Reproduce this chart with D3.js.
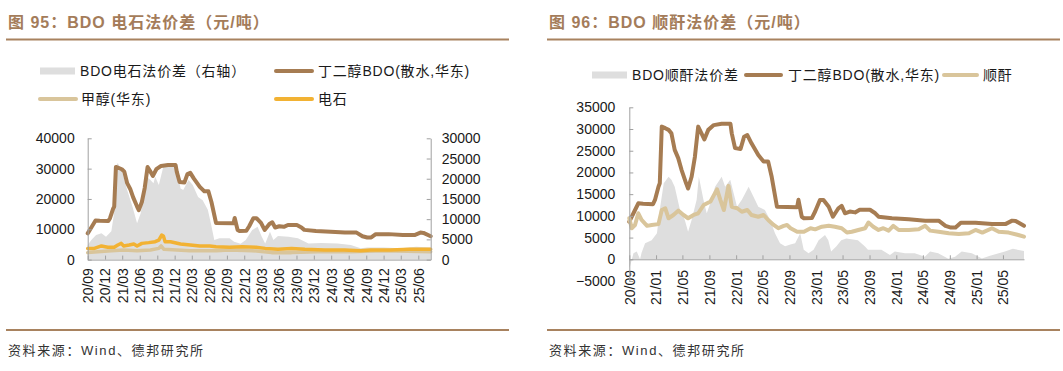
<!DOCTYPE html>
<html><head><meta charset="utf-8">
<script src="https://cdn.jsdelivr.net/npm/d3@7"></script>
<style>
body{margin:0;background:#fff;}
svg{display:block;font-family:"Liberation Sans",Arial,"Noto Sans CJK SC",sans-serif;}
</style></head><body>
<svg id="c" width="1063" height="371"></svg>
<script>
// ---------- DATA ----------
const bdoPrice = [["2020-09-01",8660],["2020-09-20",10600],["2020-10-12",12900],["2020-11-03",12800],["2020-12-18",12700],["2020-12-27",13660],["2021-01-12",16700],["2021-01-18",17500],["2021-01-27",30550],["2021-02-12",30200],["2021-02-27",29800],["2021-03-12",29000],["2021-03-27",25200],["2021-04-12",23300],["2021-04-27",20600],["2021-05-18",17500],["2021-05-27",16300],["2021-06-12",19000],["2021-06-27",23600],["2021-07-12",30550],["2021-07-27",29000],["2021-08-09",27600],["2021-08-27",29800],["2021-09-21",30900],["2021-10-27",31200],["2021-12-06",31200],["2021-12-12",29000],["2021-12-27",25600],["2022-01-21",25400],["2022-02-06",28200],["2022-02-21",28600],["2022-03-12",26700],["2022-04-12",24000],["2022-05-06",22500],["2022-05-27",22500],["2022-06-12",19000],["2022-07-06",12100],["2022-10-06",12000],["2022-10-12",13700],["2022-10-27",9800],["2022-11-06",9450],["2022-12-12",9500],["2022-12-27",11000],["2023-01-18",13660],["2023-02-03",13660],["2023-02-27",12100],["2023-03-18",9800],["2023-04-12",11750],["2023-04-27",12300],["2023-05-12",10600],["2023-06-03",11000],["2023-06-27",10800],["2023-07-18",11400],["2023-09-03",11400],["2023-09-27",10600],["2023-10-12",9800],["2023-12-12",9450],["2024-02-27",9200],["2024-05-12",8900],["2024-07-12",8900],["2024-08-12",7700],["2024-09-06",7300],["2024-09-27",7300],["2024-10-21",8400],["2024-12-27",8400],["2025-03-12",8100],["2025-05-12",8100],["2025-06-12",8900],["2025-06-28",8800],["2025-08-05",7700]];

const carbideSpread = [["2020-09-01",3600],["2020-09-20",4850],["2020-10-15",6100],["2020-11-12",6500],["2020-12-06",5650],["2021-01-03",7000],["2021-01-15",10700],["2021-01-27",23100],["2021-02-06",23900],["2021-03-03",21300],["2021-03-27",17200],["2021-04-24",13100],["2021-05-18",9000],["2021-06-06",11450],["2021-06-21",15500],["2021-07-09",20500],["2021-07-27",19700],["2021-08-12",18900],["2021-08-21",20500],["2021-09-09",18450],["2021-10-03",23000],["2021-11-09",23400],["2021-12-12",23000],["2022-01-01",17600],["2022-01-15",17200],["2022-02-12",19700],["2022-03-06",18450],["2022-04-03",15500],["2022-04-27",14700],["2022-05-24",12300],["2022-06-09",9000],["2022-06-27",4850],["2022-07-24",5250],["2022-09-15",5250],["2022-10-09",4400],["2022-11-12",3900],["2022-12-09",4850],["2023-01-12",7300],["2023-02-09",8150],["2023-03-03",5650],["2023-03-21",4000],["2023-04-15",6900],["2023-05-03",4850],["2023-05-27",5850],["2023-07-21",5650],["2023-09-09",5250],["2023-11-03",4000],["2024-01-09",4100],["2024-04-03",4000],["2024-06-12",3600],["2024-08-03",2800],["2024-09-06",3000],["2024-12-03",3000],["2025-02-27",2800],["2025-05-21",3200],["2025-08-05",3000]];

const carbidePrice = [["2020-09-01",3700],["2020-10-06",3700],["2020-11-12",4500],["2020-12-15",4050],["2021-01-18",4050],["2021-02-06",4800],["2021-02-24",5350],["2021-03-09",4500],["2021-04-06",4800],["2021-05-01",5150],["2021-05-18",4500],["2021-06-12",5350],["2021-07-18",5600],["2021-08-21",5900],["2021-09-09",6450],["2021-09-24",8100],["2021-10-03",7800],["2021-10-12",5900],["2021-11-09",5900],["2022-01-01",5150],["2022-02-21",4800],["2022-04-12",4500],["2022-06-03",4500],["2022-07-06",4250],["2022-09-15",4050],["2022-11-21",4250],["2023-02-01",4050],["2023-03-21",3700],["2023-05-27",3400],["2023-08-06",3700],["2023-10-15",3400],["2024-01-27",3150],["2024-05-09",3150],["2024-08-03",2950],["2024-09-24",3150],["2025-01-06",3150],["2025-04-18",3400],["2025-08-05",3400]];

const methanolPrice = [["2020-09-01",2300],["2020-10-24",2600],["2021-01-03",2950],["2021-03-09",3150],["2021-05-18",2950],["2021-07-27",3150],["2021-09-09",3700],["2021-09-21",4500],["2021-10-06",3400],["2021-12-12",3150],["2022-02-21",2950],["2022-07-06",2950],["2022-09-15",3150],["2023-01-12",2950],["2023-04-24",2300],["2023-08-06",2300],["2023-12-21",2600],["2024-06-12",2600],["2024-12-03",2950],["2025-08-05",2600]];

const maSpread = [["2020-09-01",-2000],["2020-09-05",-1500],["2020-09-20",1400],["2020-10-05",1800],["2020-10-20",0],["2020-10-27",1500],["2020-11-12",3700],["2020-12-12",4400],["2021-01-05",6000],["2021-01-20",12100],["2021-02-05",17500],["2021-02-27",19000],["2021-03-12",18300],["2021-03-27",16700],["2021-04-20",11350],["2021-05-12",9050],["2021-05-27",6350],["2021-06-12",9050],["2021-07-05",13700],["2021-07-15",19000],["2021-08-05",13700],["2021-08-20",10600],["2021-09-05",12900],["2021-09-27",16700],["2021-10-27",19000],["2021-11-12",16700],["2021-12-05",18300],["2022-01-05",12100],["2022-01-27",13700],["2022-02-27",16700],["2022-03-20",14500],["2022-04-12",12100],["2022-05-12",11350],["2022-06-05",9050],["2022-06-27",6000],["2022-07-20",3700],["2022-08-12",3000],["2022-09-05",3400],["2022-09-27",3700],["2022-10-20",6000],["2022-11-05",2200],["2022-11-27",1400],["2022-12-20",2200],["2023-01-12",4400],["2023-02-10",5600],["2023-02-25",4400],["2023-03-10",1800],["2023-04-03",3000],["2023-04-25",4400],["2023-05-18",4800],["2023-07-10",4400],["2023-08-10",3000],["2023-08-25",2200],["2023-10-25",2200],["2023-12-03",1000],["2023-12-25",1800],["2024-02-10",1400],["2024-03-25",1400],["2024-05-10",600],["2024-06-03",1800],["2024-07-10",1400],["2024-08-25",100],["2024-09-25",600],["2024-10-25",1800],["2024-12-10",1400],["2025-01-25",200],["2025-03-03",800],["2025-05-10",1800],["2025-06-15",2400],["2025-08-05",1900]];

const maPrice = [["2020-09-01",9450],["2020-09-12",7150],["2020-09-27",7900],["2020-10-12",10600],["2020-10-27",9050],["2020-11-21",7700],["2020-12-12",7900],["2021-01-12",8100],["2021-01-27",11350],["2021-02-12",11750],["2021-02-27",9450],["2021-03-21",10200],["2021-04-12",11200],["2021-05-06",10200],["2021-05-27",9450],["2021-06-21",10200],["2021-07-12",10600],["2021-08-06",12500],["2021-09-06",13300],["2021-10-06",16100],["2021-10-21",13700],["2021-11-06",11350],["2021-11-27",16900],["2021-12-12",12100],["2022-01-06",11750],["2022-01-27",10950],["2022-02-21",11350],["2022-03-12",10200],["2022-04-12",9800],["2022-05-06",10200],["2022-05-27",9050],["2022-06-21",7900],["2022-07-12",7150],["2022-08-06",7700],["2022-08-21",7900],["2022-09-06",7150],["2022-10-06",6350],["2022-11-06",6350],["2022-12-06",7150],["2022-12-27",6900],["2023-01-27",7500],["2023-02-27",7700],["2023-03-27",7500],["2023-04-27",7150],["2023-05-21",6150],["2023-06-12",6350],["2023-07-12",6750],["2023-08-12",7150],["2023-08-27",8450],["2023-09-18",7500],["2023-10-12",6750],["2023-11-03",7150],["2023-11-27",6600],["2023-12-18",7700],["2024-01-12",6750],["2024-02-27",6750],["2024-04-12",6900],["2024-05-12",7700],["2024-06-03",6600],["2024-07-12",6350],["2024-08-27",6000],["2024-10-12",5800],["2024-11-27",6000],["2024-12-27",6750],["2025-01-27",6150],["2025-03-12",7150],["2025-04-12",6350],["2025-05-27",6150],["2025-07-10",5600],["2025-08-05",5200]];

const leftTickLabels = ["20/09","20/12","21/03","21/06","21/09","21/12","22/03","22/06","22/09","22/12","23/03","23/06","23/09","23/12","24/03","24/06","24/09","24/12","25/03","25/06"];
const rightTickLabels = ["20/09","21/01","21/05","21/09","22/01","22/05","22/09","23/01","23/05","23/09","24/01","24/05","24/09","25/01","25/05"];
const leftYTicks = [0,10000,20000,30000,40000];
const leftY2Ticks = [0,5000,10000,15000,20000,25000,30000];
const rightYTicks = [-5000,0,5000,10000,15000,20000,25000,30000,35000];

const titles = ["图 95：BDO 电石法价差（元/吨）","图 96：BDO 顺酐法价差（元/吨）"];
const source = "资料来源：Wind、德邦研究所";
const leftLegend = ["BDO电石法价差（右轴）","丁二醇BDO(散水,华东)","甲醇(华东)","电石"];
const rightLegend = ["BDO顺酐法价差","丁二醇BDO(散水,华东)","顺酐"];

// ---------- STYLE ----------
const C = {gray:"#DEDEDE", brown:"#A67C52", tan:"#D9C59B", orange:"#F2B233", title:"#A47C5A", rule:"#A8825F", axis:"#A0A0A0", text:"#1a1a1a"};
const parse = d3.timeParse("%Y-%m-%d");
const tparse = d3.timeParse("%y/%m");
const conv = a => a.map(d => ({date: parse(d[0]), v: d[1]}));
const svg = d3.select("#c");
const fmt = d3.format("d");

// headers / footers
[[8,6,509],[549,547,1060]].forEach((p,i)=>{
  svg.append("text").attr("x",p[0]).attr("y",28).attr("fill",C.title)
    .attr("font-size",16).attr("font-weight","bold").attr("letter-spacing",1.0)
    .text(titles[i]);
  svg.append("line").attr("x1",p[1]).attr("x2",p[2]).attr("y1",39.5).attr("y2",39.5)
    .attr("stroke",C.rule).attr("stroke-width",2);
  svg.append("line").attr("x1",p[1]).attr("x2",p[2]).attr("y1",330).attr("y2",330)
    .attr("stroke",C.rule).attr("stroke-width",2);
  svg.append("text").attr("x",p[0]).attr("y",355).attr("fill","#333")
    .attr("font-size",13).attr("letter-spacing",1.6).text(source);
});

function styleAxis(g){
  g.select(".domain").attr("stroke",C.axis);
  g.selectAll(".tick line").attr("stroke",C.axis);
  g.selectAll(".tick text").attr("fill",C.text).attr("font-size",14).attr("font-family",'"Liberation Sans",Arial,sans-serif');
}
function xLabels(g, d){
  g.selectAll(".tick text").attr("y",0).attr("x",-d).attr("dy","0.35em")
    .attr("transform","rotate(-90)").attr("text-anchor","end");
}
function legendSwatch(type, x1, x2, y, color){
  if(type==="rect") svg.append("rect").attr("x",x1).attr("y",y-3.5).attr("width",x2-x1).attr("height",7).attr("fill",color);
  else svg.append("line").attr("x1",x1).attr("x2",x2).attr("y1",y).attr("y2",y).attr("stroke",color).attr("stroke-width",4).attr("stroke-linecap","round");
}
function legendText(x,y,t){
  svg.append("text").attr("x",x).attr("y",y).attr("dy","0.36em").attr("fill",C.text)
    .attr("font-size",14).attr("letter-spacing",0.8).text(t);
}

// ---------- LEFT CHART ----------
{
  const x = d3.scaleTime().domain([parse("2020-09-01"), parse("2025-08-05")]).range([87.7, 430.7]);
  const y = d3.scaleLinear().domain([0,40000]).range([259.6,138.3]);
  const y2 = d3.scaleLinear().domain([0,30000]).range([259.6,138.3]);
  const g = svg.append("g");
  const area = d3.area().x(d=>x(d.date)).y0(y2(0)).y1(d=>y2(d.v));
  g.append("path").datum(conv(carbideSpread)).attr("d",area).attr("fill",C.gray);
  const line = d3.line().x(d=>x(d.date)).y(d=>y(d.v));
  [[bdoPrice,C.brown,4],[methanolPrice,C.tan,3.5],[carbidePrice,C.orange,3.5]].forEach(s=>{
    g.append("path").datum(conv(s[0])).attr("d",line).attr("fill","none")
      .attr("stroke",s[1]).attr("stroke-width",s[2]).attr("stroke-linejoin","round").attr("stroke-linecap","round");
  });
  const ax = svg.append("g").attr("transform",`translate(0,${y(0)})`)
    .call(d3.axisBottom(x).tickValues(leftTickLabels.map(tparse)).tickFormat(d3.timeFormat("%y/%m")).tickSize(-4).tickSizeOuter(0));
  styleAxis(ax); xLabels(ax, 8.5);
  const ay = svg.append("g").attr("transform",`translate(87.7,0)`)
    .call(d3.axisLeft(y).tickValues(leftYTicks).tickFormat(fmt).tickSize(-4).tickSizeOuter(0).tickPadding(13));
  styleAxis(ay);
  const ay2 = svg.append("g").attr("transform",`translate(430.7,0)`)
    .call(d3.axisRight(y2).tickValues(leftY2Ticks).tickFormat(fmt).tickSize(-4).tickSizeOuter(0).tickPadding(11));
  styleAxis(ay2);
  // legend
  legendSwatch("rect",40,75,71,C.gray); legendText(80,71,leftLegend[0]);
  legendSwatch("line",276,312,71,C.brown); legendText(318,71,leftLegend[1]);
  legendSwatch("line",40,76,99,C.tan); legendText(81,99,leftLegend[2]);
  legendSwatch("line",276,312,99,C.orange); legendText(318,99,leftLegend[3]);
}

// ---------- RIGHT CHART ----------
{
  const x = d3.scaleTime().domain([parse("2020-09-01"), parse("2025-08-05")]).range([629.3, 1024]);
  const y = d3.scaleLinear().domain([-5000,35000]).range([281,107.3]);
  const g = svg.append("g");
  const area = d3.area().x(d=>x(d.date)).y0(y(0)).y1(d=>y(d.v));
  g.append("path").datum(conv(maSpread)).attr("d",area).attr("fill",C.gray);
  const line = d3.line().x(d=>x(d.date)).y(d=>y(d.v));
  [[bdoPrice,C.brown,4],[maPrice,C.tan,4]].forEach(s=>{
    g.append("path").datum(conv(s[0])).attr("d",line).attr("fill","none")
      .attr("stroke",s[1]).attr("stroke-width",s[2]).attr("stroke-linejoin","round").attr("stroke-linecap","round");
  });
  const ax = svg.append("g").attr("transform",`translate(0,${y(0)})`)
    .call(d3.axisBottom(x).tickValues(rightTickLabels.map(tparse)).tickFormat(d3.timeFormat("%y/%m")).tickSize(-4).tickSizeOuter(0));
  styleAxis(ax); xLabels(ax, 10.7);
  const ay = svg.append("g").attr("transform",`translate(629.3,0)`)
    .call(d3.axisLeft(y).tickValues(rightYTicks).tickFormat(fmt).tickSize(-4).tickSizeOuter(0).tickPadding(14));
  styleAxis(ay);
  legendSwatch("rect",592,627,75,C.gray); legendText(632,75,rightLegend[0]);
  legendSwatch("line",746,781,75,C.brown); legendText(788,75,rightLegend[1]);
  legendSwatch("line",944,977,75,C.tan); legendText(983,75,rightLegend[2]);
}
</script>
</body></html>
